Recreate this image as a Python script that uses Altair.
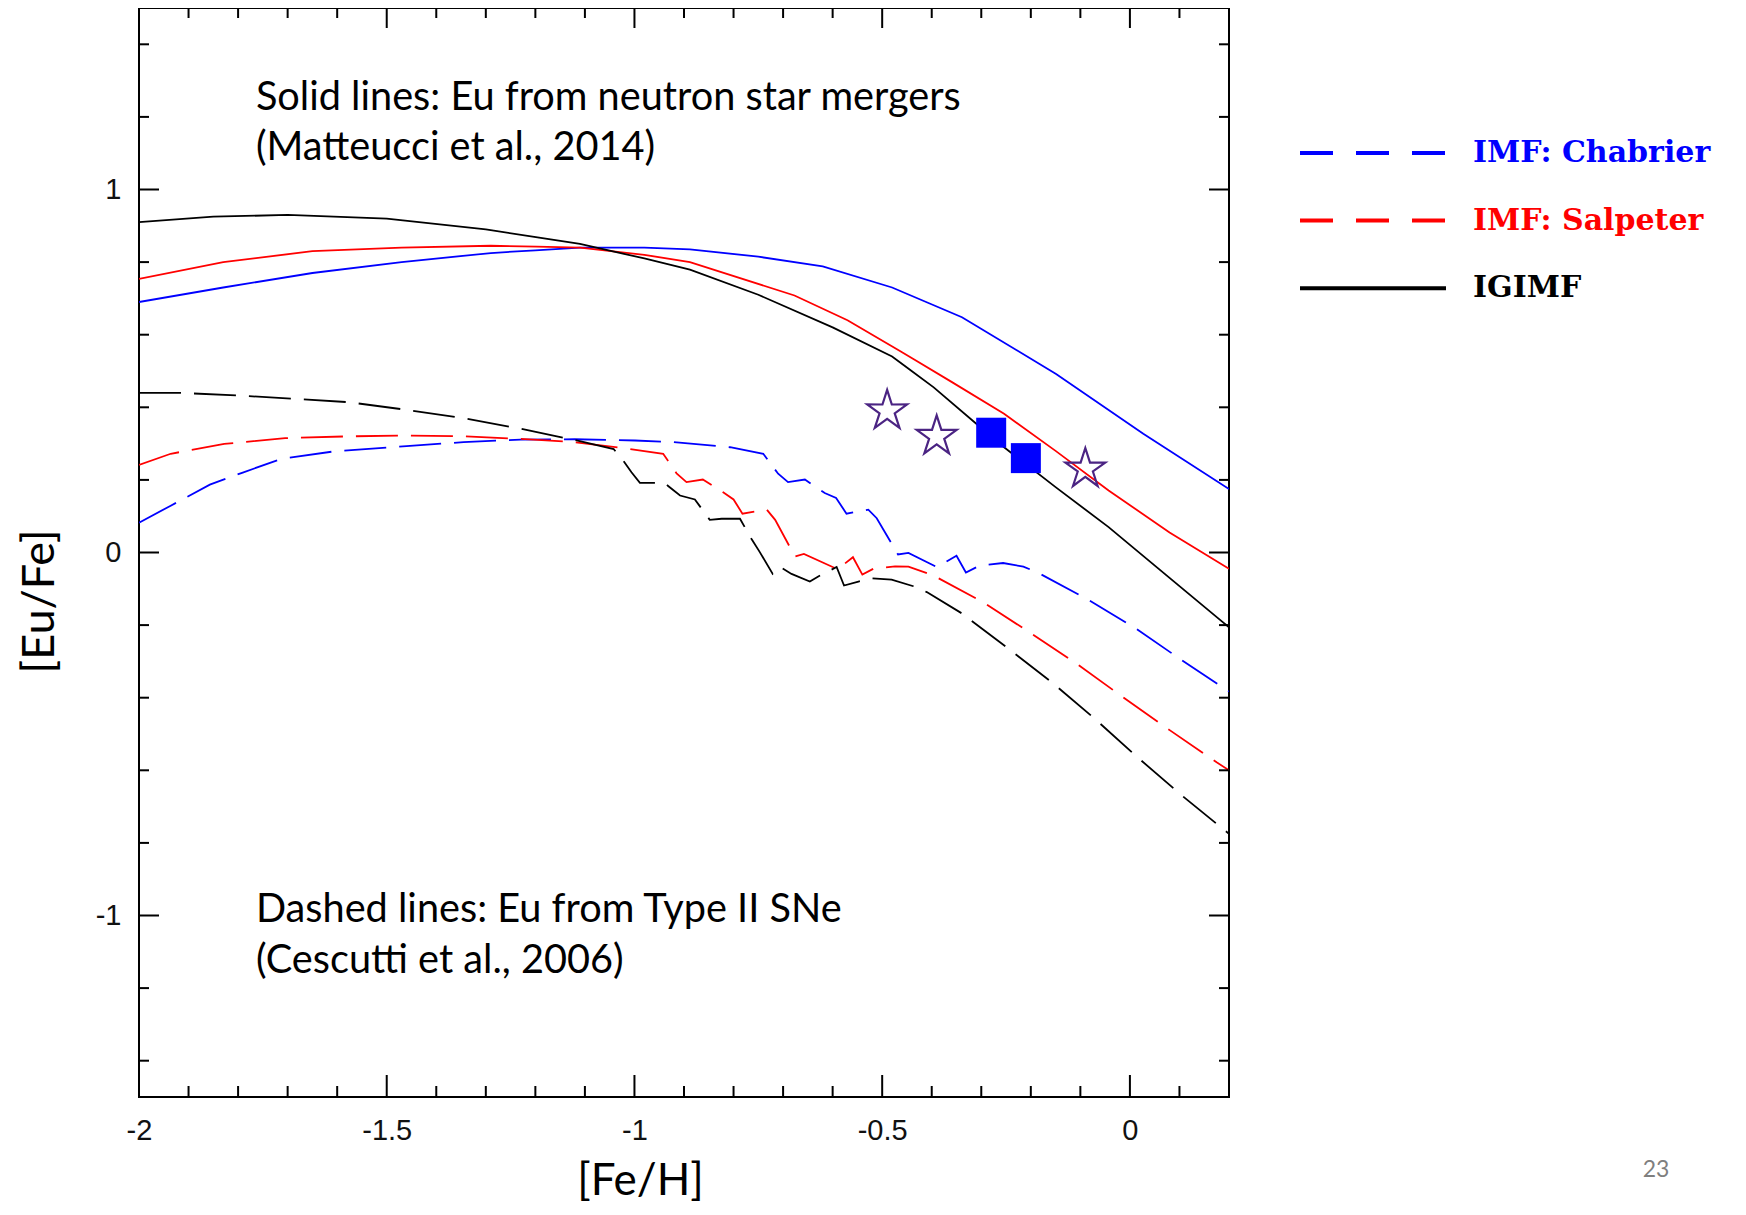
import altair as alt
import pandas as pd

# ---------------- data ----------------
# Solid lines: Eu from neutron star mergers
nsm_igimf_x = [-2.0, -1.85, -1.70, -1.50, -1.30, -1.11, -0.98, -0.888, -0.75, -0.60, -0.48, -0.396, -0.30, -0.254, -0.15, -0.043, 0.08, 0.2]
nsm_igimf_y = [0.91, 0.925, 0.93, 0.92, 0.89, 0.85, 0.81, 0.779, 0.71, 0.62, 0.54, 0.455, 0.343, 0.29, 0.18, 0.07, -0.07, -0.206]

nsm_salp_x = [-2.0, -1.83, -1.65, -1.47, -1.29, -1.11, -0.98, -0.888, -0.677, -0.57, -0.465, -0.36, -0.254, -0.15, -0.043, 0.08, 0.2]
nsm_salp_y = [0.754, 0.80, 0.83, 0.84, 0.845, 0.84, 0.82, 0.80, 0.708, 0.64, 0.556, 0.47, 0.382, 0.28, 0.171, 0.055, -0.045]

nsm_chab_x = [-2.0, -1.83, -1.65, -1.47, -1.29, -1.11, -0.98, -0.888, -0.75, -0.62, -0.48, -0.339, -0.149, 0.027, 0.2]
nsm_chab_y = [0.69, 0.73, 0.77, 0.80, 0.825, 0.84, 0.84, 0.835, 0.815, 0.788, 0.73, 0.648, 0.492, 0.327, 0.175]

# Dashed lines: Eu from Type II SNe
sn_igimf_x = [-2.0, -1.92, -1.80, -1.684, -1.576, -1.46, -1.345, -1.23, -1.121, -1.042, -1.0226, -1.006, -0.989,
              -0.938, -0.932, -0.908, -0.878, -0.848, -0.824, -0.787, -0.764, -0.747, -0.721, -0.706, -0.683,
              -0.646, -0.629, -0.592, -0.577, -0.548, -0.521, -0.481, -0.437, -0.410, -0.340, -0.249, -0.158,
              -0.071, 0.0135, 0.101, 0.2]
sn_igimf_y = [0.44, 0.44, 0.4325, 0.423, 0.414, 0.393, 0.370, 0.341, 0.310, 0.285, 0.253, 0.221, 0.192,
              0.192, 0.183, 0.157, 0.146, 0.090, 0.093, 0.093, 0.038, 0.001, -0.059, -0.040, -0.059,
              -0.080, -0.066, -0.040, -0.091, -0.080, -0.071, -0.075, -0.093, -0.109, -0.167, -0.261, -0.357,
              -0.458, -0.562, -0.665, -0.775]

sn_salp_x = [-2.0, -1.936, -1.828, -1.705, -1.576, -1.46, -1.345, -1.23, -1.121, -1.013, -0.942, -0.915, -0.895,
             -0.862, -0.821, -0.80, -0.782, -0.733, -0.716, -0.676, -0.658, -0.60, -0.589, -0.559, -0.540,
             -0.518, -0.474, -0.447, -0.397, -0.296, -0.198, -0.107, -0.0135, 0.081, 0.175, 0.2]
sn_salp_y = [0.2415, 0.272, 0.299, 0.315, 0.320, 0.322, 0.320, 0.313, 0.304, 0.286, 0.272, 0.218, 0.194,
             0.201, 0.166, 0.146, 0.107, 0.118, 0.090, -0.011, -0.004, -0.040, -0.045, -0.013, -0.061,
             -0.045, -0.038, -0.039, -0.063, -0.137, -0.224, -0.307, -0.399, -0.490, -0.578, -0.60]

sn_chab_x = [-2.0, -1.936, -1.857, -1.792, -1.713, -1.604, -1.46, -1.345, -1.23, -1.121, -0.999, -0.922, -0.807,
             -0.740, -0.710, -0.690, -0.656, -0.616, -0.593, -0.572, -0.528, -0.511, -0.468, -0.447, -0.390,
             -0.350, -0.331, -0.303, -0.256, -0.215, -0.188, -0.087, 0.0105, 0.104, 0.2]
sn_chab_y = [0.082, 0.129, 0.187, 0.2195, 0.258, 0.279, 0.293, 0.304, 0.311, 0.312, 0.3085, 0.304, 0.290,
             0.272, 0.217, 0.194, 0.201, 0.164, 0.150, 0.107, 0.118, 0.0945, -0.0055, -0.001, -0.040,
             -0.009, -0.055, -0.036, -0.029, -0.039, -0.054, -0.128, -0.208, -0.296, -0.383]

# observations
square_x = [-0.28, -0.21]
square_y = [0.33, 0.26]
star_x = [-0.49, -0.39, -0.09]
star_y = [0.39, 0.32, 0.23]

imf_names = ["IMF: Chabrier", "IMF: Salpeter", "IGIMF"]
imf_colors = ["#0000ff", "#ff0000", "#000000"]

x_major = [-2, -1.5, -1, -0.5, 0]
x_minor = [-1.9, -1.8, -1.7, -1.6, -1.4, -1.3, -1.2, -1.1, -0.9, -0.8, -0.7, -0.6, -0.4, -0.3, -0.2, -0.1, 0.1]
y_major = [-1, 0, 1]
y_minor = [-1.4, -1.2, -0.8, -0.6, -0.4, -0.2, 0.2, 0.4, 0.6, 0.8, 1.2, 1.4]

annot_text = ["Solid lines: Eu from neutron star mergers", "(Matteucci et al., 2014)",
              "Dashed lines: Eu from Type II SNe", "(Cescutti et al., 2006)"]
annot_x = [-1.764, -1.764, -1.764, -1.764]
annot_y = [1.253, 1.113, -0.986, -1.124]

page_text = ["23"]
page_x = [1.062]
page_y = [-1.70]

# ---------------- build tables ----------------
rows = []
for name, src, xs, ys in [
    ("IMF: Chabrier", "NSM", nsm_chab_x, nsm_chab_y),
    ("IMF: Salpeter", "NSM", nsm_salp_x, nsm_salp_y),
    ("IGIMF", "NSM", nsm_igimf_x, nsm_igimf_y),
    ("IMF: Chabrier", "SNII", sn_chab_x, sn_chab_y),
    ("IMF: Salpeter", "SNII", sn_salp_x, sn_salp_y),
    ("IGIMF", "SNII", sn_igimf_x, sn_igimf_y),
]:
    for i, (a, b) in enumerate(zip(xs, ys)):
        rows.append({"feh": a, "eufe": b, "imf": name, "source": src, "order": i, "series": name + src})
lines_df = pd.DataFrame(rows)

W, H = 1090, 1089
xs_scale = alt.Scale(domain=[-2, 0.2], nice=False, zero=False)
ys_scale = alt.Scale(domain=[-1.5, 1.5], nice=False, zero=False)

x_axis = alt.Axis(values=x_major, labelExpr="toString(datum.value)", labelFont="Liberation Sans", labelFontSize=29,
                  labelColor="#111111", labelPadding=19, labelFlush=False, tickSize=0, ticks=False, domain=False,
                  grid=False, title="[Fe/H]", titleFont="Lato", titleFontSize=44, titleFontWeight="normal",
                  titleColor="black", titleX=501, titleY=84, titleBaseline="middle", titleAlign="center")
y_axis = alt.Axis(values=y_major, labelExpr="toString(datum.value)", labelFont="Liberation Sans", labelFontSize=29,
                  labelColor="#111111", labelPadding=18, labelFlush=False, tickSize=0, ticks=False, domain=False,
                  grid=False, title="[Eu/Fe]", titleFont="Lato", titleFontSize=45, titleFontWeight="normal",
                  titleColor="black", titleX=-100, titleY=593, titleBaseline="middle", titleAlign="center",
                  titleAngle=270)


def X(field):
    return alt.X(field, scale=xs_scale, axis=x_axis, title="[Fe/H]")


def Y(field):
    return alt.Y(field, scale=ys_scale, axis=y_axis, title="[Eu/Fe]")


legend = alt.Legend(
    title=None, orient="none", legendX=1159, legendY=130, padding=0,
    symbolType="stroke", symbolSize=21316, symbolStrokeWidth=4,
    symbolDash={"expr": "datum.value === 'IGIMF' ? [400, 0] : [33, 23]"},
    clipHeight=30, rowPadding=37.6, labelOffset=25, labelLimit=500,
    labelFont="DejaVu Serif", labelFontWeight="bold", labelFontSize=30,
    labelColor={"expr": "scale('color', datum.value)"},
)

lines = alt.Chart(lines_df).mark_line(strokeWidth=1.8, clip=True).encode(
    x=X("feh:Q"),
    y=Y("eufe:Q"),
    color=alt.Color("imf:N", scale=alt.Scale(domain=imf_names, range=imf_colors), legend=legend),
    strokeDash=alt.StrokeDash("source:N", scale=alt.Scale(domain=["NSM", "SNII"], range=[[400, 0], [42, 13]]), legend=None),
    detail="series:N",
    order="order:Q",
)

squares = alt.Chart(pd.DataFrame({"feh": square_x, "eufe": square_y})).mark_point(
    shape="square", filled=True, size=900, color="#0000ff", opacity=1
).encode(x=X("feh:Q"), y=Y("eufe:Q"))

star_path = ("M0,-1L0.2234,-0.3074L0.951,-0.309L0.3614,0.1174L0.588,0.809L0,0.38L-0.588,0.809"
             "L-0.3614,0.1174L-0.951,-0.309L-0.2234,-0.3074Z")
stars = alt.Chart(pd.DataFrame({"feh": star_x, "eufe": star_y})).mark_point(
    shape=star_path, filled=False, size=1760, stroke="#4b2483", strokeWidth=2.2, opacity=1
).encode(x=X("feh:Q"), y=Y("eufe:Q"))


def tick_layer(vals, axis, side, length):
    df = pd.DataFrame({"v": vals})
    base = alt.Chart(df).mark_rule(color="black", strokeWidth=2)
    if axis == "x":
        enc = dict(x=X("v:Q"))
        if side == "bottom":
            enc.update(y=alt.value(H), y2=alt.value(H - length))
        else:
            enc.update(y=alt.value(0), y2=alt.value(length))
    else:
        enc = dict(y=Y("v:Q"))
        if side == "left":
            enc.update(x=alt.value(0), x2=alt.value(length))
        else:
            enc.update(x=alt.value(W), x2=alt.value(W - length))
    return base.encode(**enc)


ticks = [
    tick_layer(x_major, "x", "bottom", 22), tick_layer(x_minor, "x", "bottom", 11),
    tick_layer(x_major, "x", "top", 20), tick_layer(x_minor, "x", "top", 10),
    tick_layer(y_major, "y", "left", 20), tick_layer(y_minor, "y", "left", 10),
    tick_layer(y_major, "y", "right", 20), tick_layer(y_minor, "y", "right", 10),
]

annots = alt.Chart(pd.DataFrame({"feh": annot_x, "eufe": annot_y, "t": annot_text})).mark_text(
    align="left", baseline="middle", font="Lato", fontSize=39.7, color="black"
).encode(x=X("feh:Q"), y=Y("eufe:Q"), text="t:N")

page = alt.Chart(pd.DataFrame({"feh": page_x, "eufe": page_y, "t": page_text})).mark_text(
    align="center", baseline="middle", font="Lato", fontSize=23, color="#7f7f7f"
).encode(x=X("feh:Q"), y=Y("eufe:Q"), text="t:N")

chart = alt.layer(lines, squares, *ticks, stars, annots, page).properties(
    width=W, height=H,
    background="white",
    autosize=alt.AutoSizeParams(type="none"),
    padding={"left": 131, "top": 0, "right": 500, "bottom": 110},
).configure_view(stroke="black", strokeWidth=2)

chart.save("out.html", embed_options={"renderer": "svg", "actions": False})
